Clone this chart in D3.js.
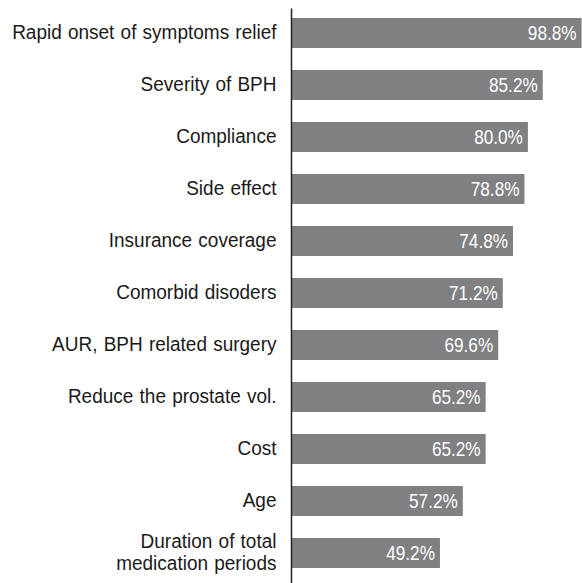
<!DOCTYPE html>
<html>
<head>
<meta charset="utf-8">
<script src="https://cdn.jsdelivr.net/npm/d3@7"></script>
<style>
  body { margin: 0; background: #fff; }
  svg text { font-family: "Liberation Sans", Arial, sans-serif; }
</style>
</head>
<body>
<svg id="chart" width="582" height="583"></svg>
<script>
// factors and percentages
const factors = [
  "Rapid onset of symptoms relief",
  "Severity of BPH",
  "Compliance",
  "Side effect",
  "Insurance coverage",
  "Comorbid disoders",
  "AUR, BPH related surgery",
  "Reduce the prostate vol.",
  "Cost",
  "Age",
  "Duration of total\nmedication periods"
];
const percents = [98.8, 85.2, 80.0, 78.8, 74.8, 71.2, 69.6, 65.2, 65.2, 57.2, 49.2];

let data = factors.map((f, i) => ({ name: f, value: percents[i] }));

let svg = d3.select("#chart");
let axisX = 291.5;
let squeeze = 0.905; // condensed look

let x = d3.scaleLinear()
  .domain([0, 100])
  .range([299.5, 585]);

let y = d3.scaleBand()
  .domain(data.map(d => d.name))
  .range([7, 579])
  .paddingInner(0.423)
  .paddingOuter(0.2115);

//Bars
svg.selectAll("rect.bar")
  .data(data)
  .enter().append("rect")
  .attr("class", "bar")
  .attr("x", axisX)
  .attr("y", d => y(d.name))
  .attr("width", d => x(d.value) - axisX)
  .attr("height", y.bandwidth())
  .attr("fill", "#808083");

//Value labels
svg.selectAll("g.val")
  .data(data)
  .enter().append("g")
  .attr("class", "val")
  .attr("transform", d => "translate(" + (x(d.value) - 5) + "," + (y(d.name) + y.bandwidth() / 2) + ") scale(0.86,1)")
  .append("text")
  .attr("dy", "0.34em")
  .attr("text-anchor", "end")
  .attr("fill", "#fff")
  .style("font-size", "20px")
  .text(d => d.value.toFixed(1) + "%");

//Category labels
let labels = svg.selectAll("g.cat")
  .data(data)
  .enter().append("g")
  .attr("class", "cat")
  .attr("transform", d => "translate(" + (axisX - 15) + "," + (y(d.name) + y.bandwidth() / 2) + ") scale(" + squeeze + ",1)")
  .append("text")
  .attr("text-anchor", "end")
  .attr("fill", "#1a1a1a")
  .style("font-size", "21px")
  .style("word-spacing", "1px");

labels.each(function(d) {
  let lines = d.name.split("\n");
  let t = d3.select(this);
  lines.forEach((line, i) => {
    t.append("tspan")
      .attr("x", 0)
      .attr("y", (i - (lines.length - 1) / 2) * 22)
      .attr("dy", "0.3em")
      .text(line);
  });
});

//Axis line
let yAxis = d3.axisLeft(y).tickSize(0).tickFormat("");
svg.append("g")
  .attr("transform", "translate(" + axisX + ",0)")
  .call(yAxis)
  .call(g => g.select(".domain").attr("d", "M0,8.5V583").attr("stroke", "#222").attr("stroke-width", 1.5));
</script>
</body>
</html>
